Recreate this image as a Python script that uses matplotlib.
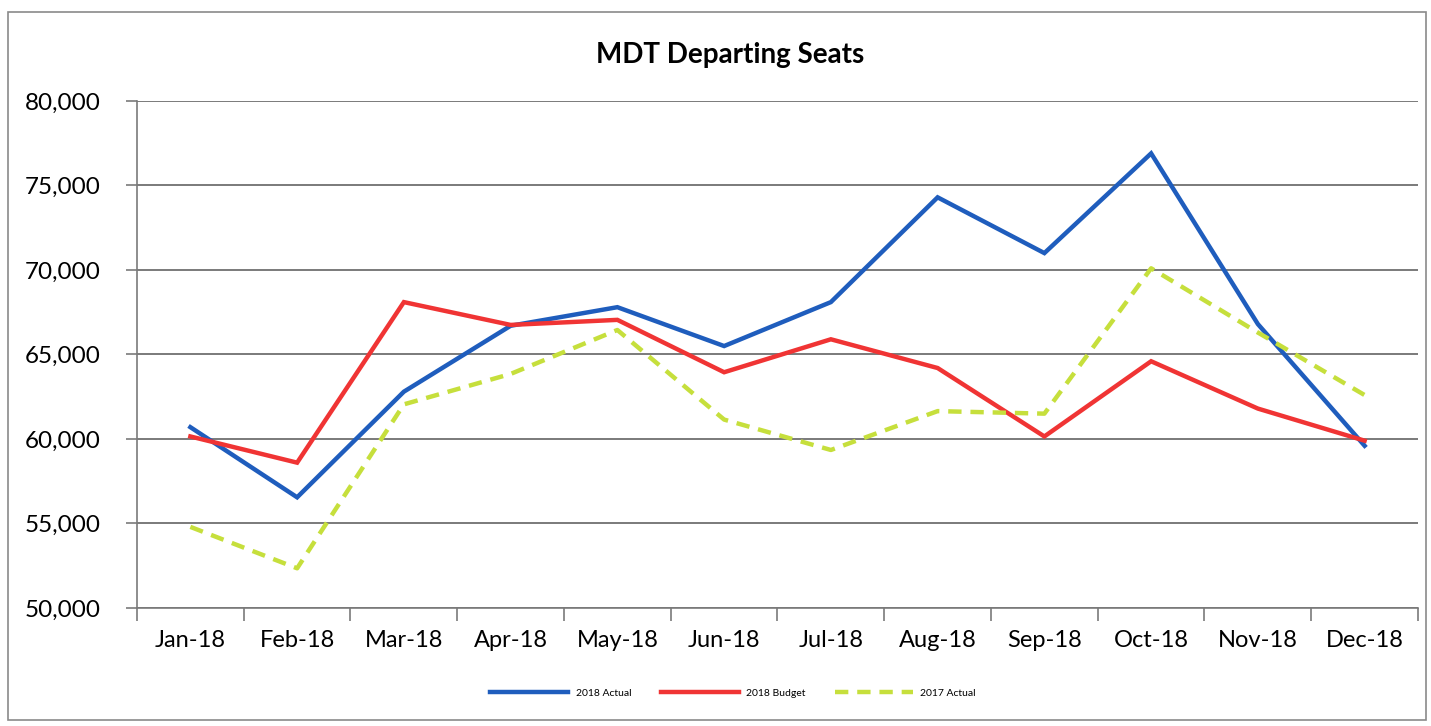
import numpy as np
import matplotlib.pyplot as plt
from matplotlib.patches import Rectangle
from matplotlib.ticker import FuncFormatter

plt.rcParams['font.family'] = ['Lato', 'DejaVu Sans']

months = ['Jan-18', 'Feb-18', 'Mar-18', 'Apr-18', 'May-18', 'Jun-18',
          'Jul-18', 'Aug-18', 'Sep-18', 'Oct-18', 'Nov-18', 'Dec-18']
actual_2018 = [60700, 56550, 62800, 66700, 67800, 65500,
               68100, 74300, 71000, 76900, 66800, 59600]
budget_2018 = [60150, 58600, 68100, 66750, 67050, 63950,
               65900, 64200, 60150, 64600, 61800, 59900]
actual_2017 = [54800, 52350, 62050, 63850, 66450, 61150,
               59350, 61650, 61500, 70100, 66300, 62600]

fig = plt.figure(figsize=(14.31, 7.26), dpi=100)
ax = fig.add_axes([137/1431, 1 - 608/726, (1418-137)/1431, (608-101)/726])

x = np.arange(len(months))
ax.plot(x, actual_2018, color='#1f5dbd', lw=3.2, label='2018 Actual', solid_joinstyle='miter')
ax.plot(x, budget_2018, color='#f03434', lw=3.2, label='2018 Budget', solid_joinstyle='miter')
ax.plot(x, actual_2017, color='#c6df3c', lw=3.2, ls=(0, (3, 2)), label='2017 Actual')

ax.set_xlim(-0.5, 11.5)
ax.set_ylim(50000, 80000)
ax.set_yticks(range(50000, 80001, 5000))
ax.yaxis.set_major_formatter(FuncFormatter(lambda v, p: f'{int(v):,}'))
ax.grid(axis='y', color='#7a7a7a', lw=1.4)
ax.set_axisbelow(True)

# category boundary ticks + centered labels
ax.set_xticks(np.arange(-0.5, 12, 1))
ax.set_xticklabels([])
ax.set_xticks(x, minor=True)
ax.set_xticklabels(months, minor=True)
ax.tick_params(axis='x', which='major', length=9, color='#7a7a7a', width=1.2)
ax.tick_params(axis='x', which='minor', length=0, pad=16, labelsize=17)
ax.tick_params(axis='y', length=8, color='#7a7a7a', width=1.2, labelsize=17.5, pad=18)

for s in ['top', 'right']:
    ax.spines[s].set_visible(False)
for s in ['left', 'bottom']:
    ax.spines[s].set_color('#7a7a7a')
    ax.spines[s].set_linewidth(1.2)

fig.text(730/1431, 1 - 55/726, 'MDT Departing Seats', ha='center', va='center',
         fontsize=20, fontweight='bold')

ax.legend(loc='center', bbox_to_anchor=(733/1431, 1 - 693/726),
          bbox_transform=fig.transFigure, ncol=3, frameon=False, fontsize=7.5,
          handlelength=7.5, columnspacing=2.8, handletextpad=0.7)

fig.patches.append(Rectangle((8/1431, 6/726), 1418/1431, 708/726,
                             transform=fig.transFigure, fill=False,
                             edgecolor='#8a8a8a', lw=1.2))

fig.savefig('out.png', dpi=100)
